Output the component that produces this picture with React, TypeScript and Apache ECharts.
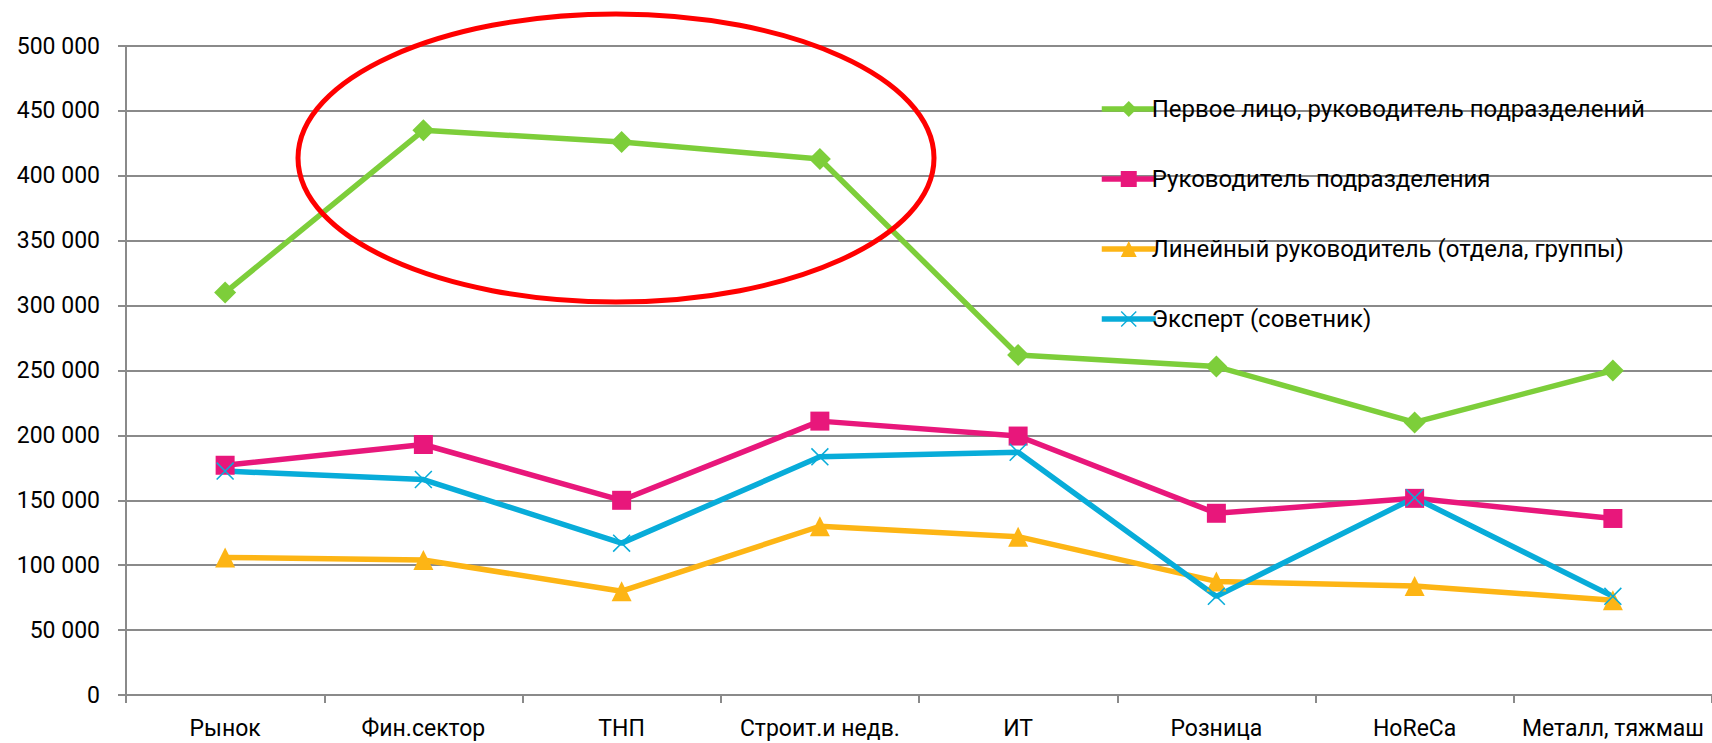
import React, { useEffect, useRef } from "react";
import * as echarts from "echarts";

const categories = ["Рынок", "Фин.сектор", "ТНП", "Строит.и недв.", "ИТ", "Розница", "HoReCa", "Металл, тяжмаш"];
const seriesNames = [
  "Первое лицо, руководитель подразделений",
  "Руководитель подразделения",
  "Линейный руководитель (отдела, группы)",
  "Эксперт (советник)",
];
const firstPerson = [310000, 435000, 426000, 413000, 262000, 253000, 210000, 250000];
const deptHead = [177000, 193000, 150000, 211000, 199500, 140000, 151500, 136000];
const lineManager = [106000, 104000, 80000, 130000, 122000, 87500, 84000, 73000];
const expert = [172500, 166000, 117000, 183500, 187000, 76000, 152000, 76000];
const yTicks = { min: 0, max: 500000, interval: 50000 };

const FONT = "Roboto, 'Liberation Sans', sans-serif";
const X_SYMBOL = "path://M0,0.06 L0.06,0 L1,0.94 L0.94,1 Z M0.94,0 L1,0.06 L0.06,1 L0,0.94 Z";

export default function App() {
  const ref = useRef<HTMLDivElement>(null);
  useEffect(() => {
    if (!ref.current) return;
    const chart = echarts.init(ref.current, null, { renderer: "svg" });
    const mk = (name: string, data: number[], color: string, symbol: string, size: number) => ({
      name,
      type: "line",
      data,
      symbol,
      symbolSize: size,
      showSymbol: true,
      lineStyle: { color, width: 5.5 },
      itemStyle: { color },
      emphasis: { disabled: true },
    });
    chart.setOption({
      animation: false,
      backgroundColor: "#fff",
      textStyle: { fontFamily: FONT },
      grid: { left: 126, right: 0, top: 46, bottom: 48, containLabel: false },
      legend: {
        orient: "vertical",
        left: 1094,
        top: 92,
        itemWidth: 54,
        itemHeight: 20,
        itemGap: 46,
        lineStyle: { width: 5.5 },
        textStyle: { fontFamily: FONT, fontSize: 24, color: "#000", lineHeight: 24, padding: [0, 0, 0, -9] },
        data: seriesNames,
        selectedMode: false,
      },
      xAxis: {
        type: "category",
        data: categories,
        boundaryGap: true,
        axisLine: { show: true, lineStyle: { color: "#8a8a8a", width: 2 } },
        axisTick: { show: true, length: 8, lineStyle: { color: "#8a8a8a", width: 2 } },
        axisLabel: { fontFamily: FONT, fontSize: 23, color: "#000", margin: 22, interval: 0 },
      },
      yAxis: {
        type: "value",
        min: yTicks.min,
        max: yTicks.max,
        interval: yTicks.interval,
        axisLine: { show: true, lineStyle: { color: "#8a8a8a", width: 2 } },
        axisTick: { show: true, length: 8, lineStyle: { color: "#8a8a8a", width: 2 } },
        splitLine: { show: true, lineStyle: { color: "#8a8a8a", width: 2 } },
        axisLabel: {
          fontFamily: FONT,
          fontSize: 23,
          color: "#000",
          margin: 26,
          formatter: (v: number) => String(v).replace(/\B(?=(\d{3})+(?!\d))/g, " "),
        },
      },
      series: [
        mk(seriesNames[0], firstPerson, "#7dce3a", "diamond", 22),
        mk(seriesNames[1], deptHead, "#e8177b", "rect", 19),
        mk(seriesNames[2], lineManager, "#fdb515", "triangle", 20),
        mk(seriesNames[3], expert, "#08acd9", X_SYMBOL, 18),
      ],
      graphic: [
        {
          type: "ellipse",
          shape: { cx: 616, cy: 158, rx: 318, ry: 144 },
          style: { fill: "none", stroke: "#ff0000", lineWidth: 5 },
          z: 100,
        },
      ],
    });
    return () => chart.dispose();
  }, []);
  return <div ref={ref} style={{ position: "absolute", left: 0, top: 0, width: 1712, height: 743 }} />;
}
